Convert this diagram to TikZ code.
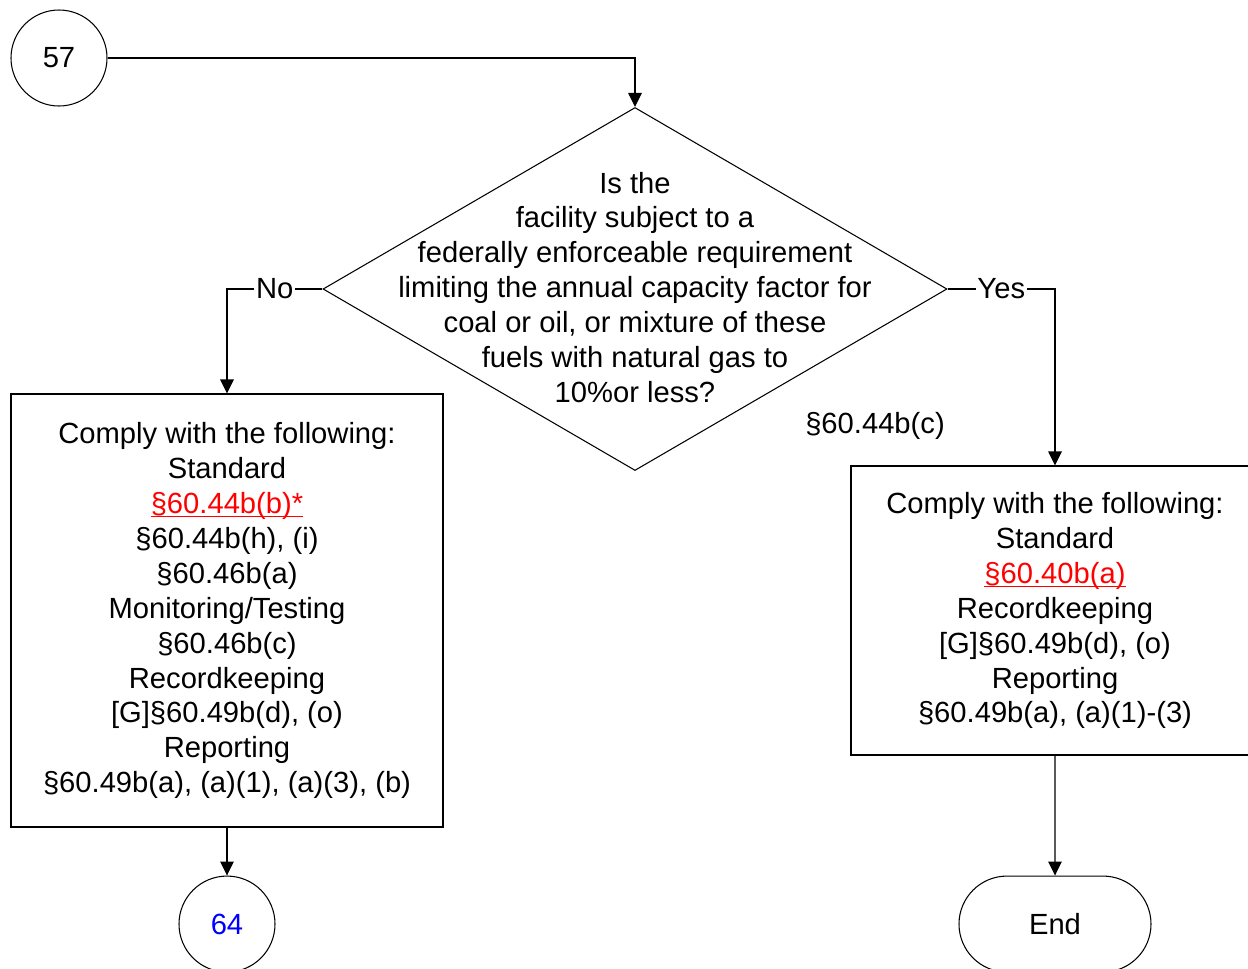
\documentclass[tikz,border=0pt]{standalone}
\usepackage{fontspec}
\setmainfont{Liberation Sans}
\usepackage{xcolor}
\usepackage{tikz}
\usetikzlibrary{shapes.geometric, shapes.misc, arrows.meta, positioning}

% red underlined reference
\newcommand{\redref}[1]{{\color{red}\setbox0\hbox{#1}\rlap{\rule[-2.4pt]{\wd0}{0.7pt}}\box0}}

\begin{document}
\begin{tikzpicture}[
    % Off-page connector circles
    conn/.style={circle, draw=black, line width=0.6pt, minimum size=1.92cm, inner sep=0pt},
    % Decision diamond (text set in a separate node)
    decision/.style={diamond, draw=black, line width=0.6pt, minimum width=12.48cm,
                     minimum height=7.26cm, inner sep=0pt},
    qtext/.style={align=center, inner sep=0pt},
    % Requirement boxes
    box/.style={rectangle, draw=black, line width=0.6pt, align=center, inner sep=0pt},
    % Terminator
    term/.style={rounded rectangle, draw=black, line width=0.6pt,
                 minimum width=3.84cm, minimum height=1.92cm, inner sep=0pt},
    lbl/.style={fill=white, inner sep=1pt},
    arrow/.style={-{Triangle[length=0.28cm, width=0.27cm]}, line width=0.6pt, black},
    font=\fontsize{16.6}{19.9}\selectfont
]
\useasboundingbox (0,0) rectangle (24.96,-19.36);
\clip (0,0) rectangle (24.96,-19.36);

%-------- START --------
\node[conn] (c57) at (1.18,-1.16) {57};

%-------- DECISION --------
\node[decision] (q) at (12.70,-5.78) {};
\node[qtext] (qt) at (12.70,-5.75)
    {Is the\\
     facility subject to a\\
     federally enforceable requirement\\
     limiting the annual capacity factor for\\
     coal or oil, or mixture of these\\
     fuels with natural gas to\\
     10\%or less?};
\node (cite) at (17.50,-8.52) {§60.44b(c)};

%-------- OUTCOMES --------
\node[box, minimum width=8.64cm, minimum height=8.66cm] (nobox) at (4.54,-12.21)
    {Comply with the following:\\
     Standard\\
     \redref{§60.44b(b)*}\\
     §60.44b(h), (i)\\
     §60.46b(a)\\
     Monitoring/Testing\\
     §60.46b(c)\\
     Recordkeeping\\
     {[G]}§60.49b(d), (o)\\
     Reporting\\
     §60.49b(a), (a)(1), (a)(3), (b)};
\node[box, minimum width=8.16cm, minimum height=5.78cm] (yesbox) at (21.10,-12.21)
    {Comply with the following:\\
     Standard\\
     \redref{§60.40b(a)}\\
     Recordkeeping\\
     {[G]}§60.49b(d), (o)\\
     Reporting\\
     §60.49b(a), (a)(1)-(3)};

%-------- ENDS --------
\node[conn, below=0.96cm of nobox, text=blue] (c64) {64};
\node[term, below=2.4cm of yesbox] (end) {End};

%-------- ARROWS --------
\draw[arrow] (c57.east) -| (q.north);
\draw[arrow] (q.west) -| node[lbl, pos=0.25] {No} (nobox.north);
\draw[arrow] (q.east) -| node[lbl, pos=0.25] {Yes} (yesbox.north);
\draw[arrow] (nobox) -- (c64);
\draw[arrow] (yesbox) -- (end);

\end{tikzpicture}
\end{document}
